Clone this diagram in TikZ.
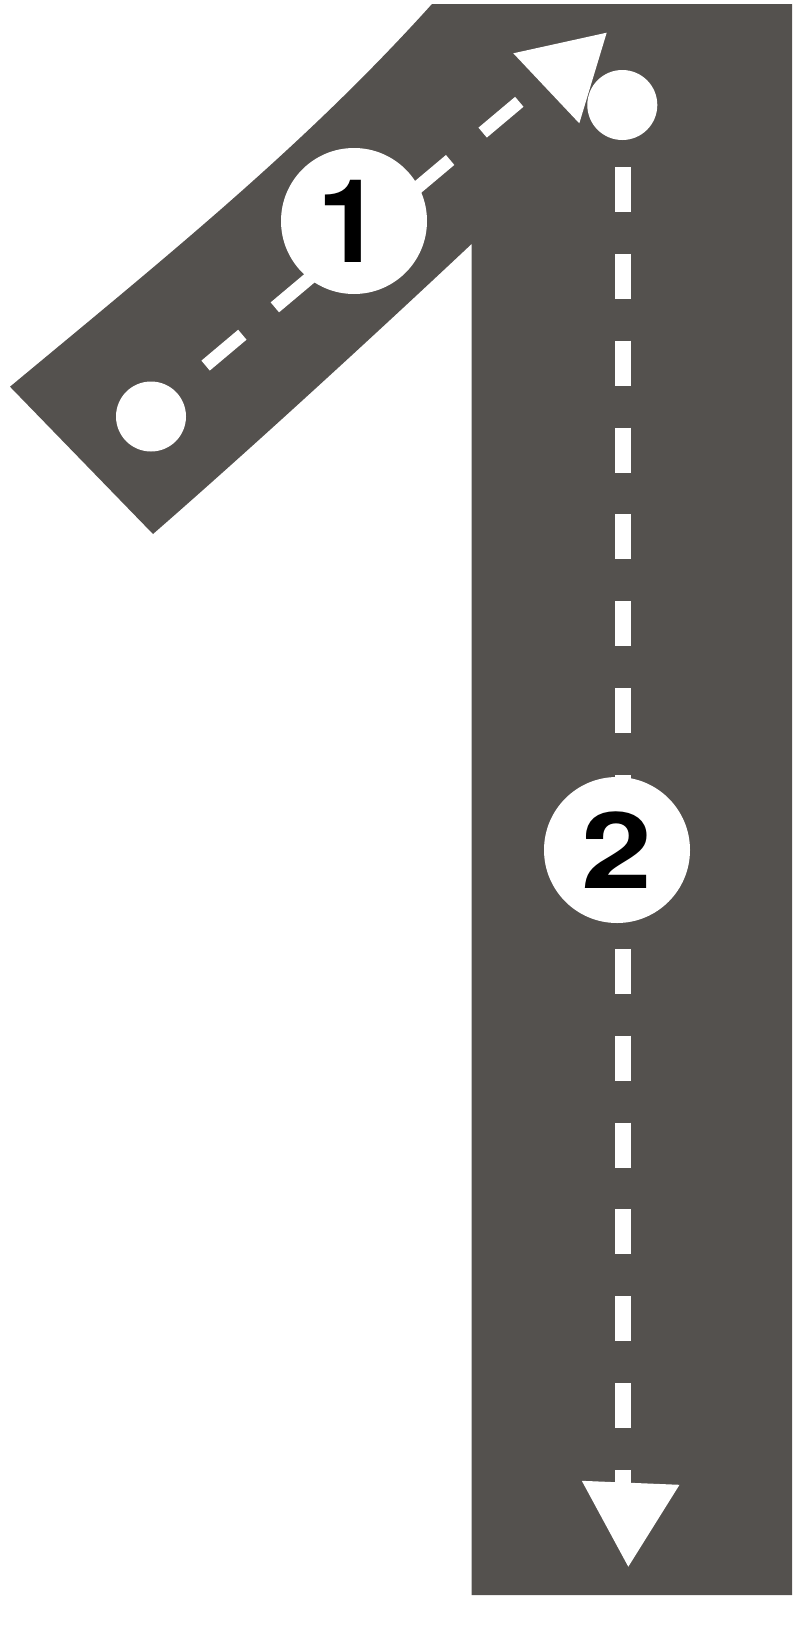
\documentclass[tikz,border=0pt]{standalone}
\usepackage{fontspec}
\usepackage{graphicx}
\setmainfont{TeX Gyre Heros}
\definecolor{strokegray}{RGB}{84,81,78}
\begin{document}
\begin{tikzpicture}[x=1pt,y=-1pt,
  strokebody/.style={fill=strokegray},
  dot/.style={circle,fill=white,minimum size=70pt,inner sep=0pt},
  numdot/.style={circle,fill=white,minimum size=146pt,inner sep=0pt,
    font=\fontsize{108}{108}\selectfont\bfseries,text=black},
  guide/.style={draw=white,line width=16pt,line cap=butt},
  headtip/.style={fill=white}]
\useasboundingbox (0,0) rectangle (807,1628);
% the digit shape
\fill[strokebody] (432,4) -- (792,4) -- (792,1595) -- (471.5,1595) -- (471.5,244)
  .. controls (380,330) and (255,445) .. (153,534) -- (10,386.7)
  .. controls (170,253.7) and (305,145) .. (432,4) -- cycle;
% stroke 1
\coordinate (s1a) at (205.6,365.6);
\coordinate (s1b) at (519.3,101.8);
\draw[guide,line width=13pt,dash pattern=on 48pt off 42.5pt] (s1a) -- (s1b);
\fill[headtip] (606.7,32.7) -- (513.3,53.3) -- (579.3,123.3) -- cycle;
\node[dot] (start1) at (151,416.5) {};
\node[numdot,font=\fontsize{116}{116}\selectfont\bfseries] (n1) at (354,221) {\kern-9pt 1};
% stroke 2
\node[dot] (start2) at (622.3,105) {};
\coordinate (s2a) at (622.5,167);
\coordinate (s2b) at (622.5,1515);
\draw[guide,dash pattern=on 45pt off 41.87pt] (s2a) -- (s2b);
\fill[headtip] (581.8,1480.8) -- (679.5,1484.8) -- (628.3,1566.7) -- cycle;
\node[numdot,font=\fontsize{106}{106}\selectfont\bfseries] (n2) at (617,850) {\scalebox{1.2}[1]{2}};
\end{tikzpicture}
\end{document}
